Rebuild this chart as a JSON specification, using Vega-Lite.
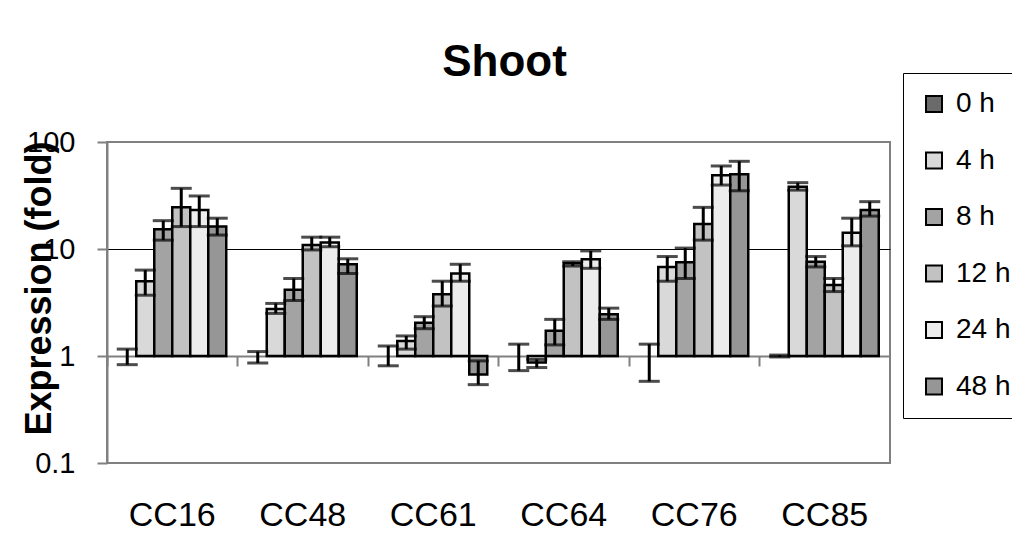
{
  "$schema": "https://vega.github.io/schema/vega-lite/v6.json",
  "width": 783,
  "height": 321,
  "autosize": "none",
  "padding": {"left": 107, "top": 142, "right": 122, "bottom": 94},
  "background": "white",
  "config": {
    "font": "Liberation Sans",
    "view": {"stroke": "#808080", "strokeWidth": 2}
  },
  "title": {
    "text": "Shoot",
    "font": "Liberation Sans",
    "fontSize": 44,
    "fontWeight": "bold",
    "color": "black",
    "frame": "group",
    "anchor": "middle",
    "baseline": "alphabetic",
    "offset": 0,
    "dx": 6,
    "dy": 47
  },
  "data": {
    "values": [
      {"gene": "CC16", "series": "0 h", "value": 1, "lower": 0.83, "upper": 1.16},
      {"gene": "CC16", "series": "4 h", "value": 5.0, "lower": 3.7, "upper": 6.35},
      {"gene": "CC16", "series": "8 h", "value": 15.3, "lower": 12.1, "upper": 18.4},
      {"gene": "CC16", "series": "12 h", "value": 24.5, "lower": 16.2, "upper": 36.9},
      {"gene": "CC16", "series": "24 h", "value": 23.2, "lower": 16.2, "upper": 31.3},
      {"gene": "CC16", "series": "48 h", "value": 16.2, "lower": 13.5, "upper": 19.4},
      {"gene": "CC48", "series": "0 h", "value": 1, "lower": 0.86, "upper": 1.1},
      {"gene": "CC48", "series": "4 h", "value": 2.75, "lower": 2.5, "upper": 3.1},
      {"gene": "CC48", "series": "8 h", "value": 4.15, "lower": 3.3, "upper": 5.3},
      {"gene": "CC48", "series": "12 h", "value": 10.9, "lower": 9.8, "upper": 12.9},
      {"gene": "CC48", "series": "24 h", "value": 11.5, "lower": 10.5, "upper": 12.9},
      {"gene": "CC48", "series": "48 h", "value": 7.2, "lower": 5.9, "upper": 8.1},
      {"gene": "CC61", "series": "0 h", "value": 1, "lower": 0.81, "upper": 1.24},
      {"gene": "CC61", "series": "4 h", "value": 1.38, "lower": 1.16, "upper": 1.54},
      {"gene": "CC61", "series": "8 h", "value": 2.05, "lower": 1.8, "upper": 2.33},
      {"gene": "CC61", "series": "12 h", "value": 3.77, "lower": 2.93, "upper": 5.0},
      {"gene": "CC61", "series": "24 h", "value": 5.9, "lower": 5.0, "upper": 7.2},
      {"gene": "CC61", "series": "48 h", "value": 0.67, "lower": 0.54, "upper": 0.9},
      {"gene": "CC64", "series": "0 h", "value": 1, "lower": 0.73, "upper": 1.29},
      {"gene": "CC64", "series": "4 h", "value": 0.87, "lower": 0.78, "upper": 0.93},
      {"gene": "CC64", "series": "8 h", "value": 1.72, "lower": 1.27, "upper": 2.2},
      {"gene": "CC64", "series": "12 h", "value": 7.35, "lower": 6.93, "upper": 7.6},
      {"gene": "CC64", "series": "24 h", "value": 8.0, "lower": 6.6, "upper": 9.6},
      {"gene": "CC64", "series": "48 h", "value": 2.45, "lower": 2.2, "upper": 2.8},
      {"gene": "CC76", "series": "0 h", "value": 1, "lower": 0.58, "upper": 1.29},
      {"gene": "CC76", "series": "4 h", "value": 6.8, "lower": 5.0, "upper": 8.5},
      {"gene": "CC76", "series": "8 h", "value": 7.5, "lower": 5.3, "upper": 10.2},
      {"gene": "CC76", "series": "12 h", "value": 17.1, "lower": 12.1, "upper": 24.5},
      {"gene": "CC76", "series": "24 h", "value": 49, "lower": 39.6, "upper": 59.7},
      {"gene": "CC76", "series": "48 h", "value": 50, "lower": 35, "upper": 66},
      {"gene": "CC85", "series": "0 h", "value": 1, "lower": 0.98, "upper": 1.02},
      {"gene": "CC85", "series": "4 h", "value": 38.2, "lower": 35.5, "upper": 41.7},
      {"gene": "CC85", "series": "8 h", "value": 7.6, "lower": 6.8, "upper": 8.5},
      {"gene": "CC85", "series": "12 h", "value": 4.6, "lower": 4.0, "upper": 5.3},
      {"gene": "CC85", "series": "24 h", "value": 14.2, "lower": 10.7, "upper": 19.4},
      {"gene": "CC85", "series": "48 h", "value": 23.2, "lower": 20.3, "upper": 27.7}
    ]
  },
  "resolve": {"axis": {"x": "independent"}},
  "layer": [
    {
      "transform": [{"filter": "datum.series !== '0 h'"}],
      "mark": {"type": "bar", "stroke": "black", "strokeWidth": 2.5},
      "encoding": {
        "x": {
          "field": "gene", "type": "nominal",
          "scale": {"paddingInner": 0, "paddingOuter": 0},
          "axis": {
            "orient": "bottom", "offset": -107, "title": null,
            "labels": false, "ticks": true, "tickSize": 10, "tickWidth": 2,
            "tickColor": "#808080", "domainColor": "#808080", "domainWidth": 2,
            "bandPosition": 0, "grid": false
          }
        },
        "xOffset": {
          "field": "series", "type": "nominal",
          "scale": {"domain": ["0 h", "4 h", "8 h", "12 h", "24 h", "48 h"], "paddingInner": 0, "paddingOuter": 0.625}
        },
        "y": {
          "field": "value", "type": "quantitative", "title": "Expression (fold)",
          "scale": {"type": "log", "domain": [0.1, 100], "nice": false},
          "axis": {
            "values": [0.1, 1, 10, 100], "format": "~g",
            "domainColor": "#808080", "domainWidth": 2,
            "tickColor": "#808080", "tickWidth": 2, "tickSize": 10,
            "labelFontSize": 29, "labelColor": "black", "labelFont": "Liberation Sans", "labelPadding": 22,
            "grid": true, "gridWidth": 1,
            "gridColor": {"condition": {"test": "datum.value === 10", "value": "black"}, "value": "transparent"},
            "titleFontSize": 36, "titleFont": "Liberation Sans", "titleFontWeight": "bold", "titleColor": "black",
            "titleAngle": -90, "titleAlign": "center", "titleBaseline": "middle",
            "titleX": -68, "titleY": 146
          }
        },
        "y2": {"datum": 1},
        "color": {
          "field": "series", "type": "nominal",
          "scale": {
            "domain": ["0 h", "4 h", "8 h", "12 h", "24 h", "48 h"],
            "range": ["#6a6a6a", "#d9d9d9", "#a3a3a3", "#c2c2c2", "#ececec", "#969696"]
          },
          "legend": {
            "title": null, "orient": "none", "legendX": 796, "legendY": -69,
            "strokeColor": "black", "fillColor": "white", "padding": 17,
            "rowPadding": 28.5, "labelFontSize": 28, "labelFont": "Liberation Sans", "labelColor": "black",
            "labelOffset": 8, "symbolType": "square", "symbolSize": 256,
            "symbolStrokeColor": "black", "symbolStrokeWidth": 2, "symbolOpacity": 1
          }
        }
      }
    },
    {
      "mark": {"type": "rule", "color": "black", "strokeWidth": 3},
      "encoding": {
        "x": {
          "field": "gene", "type": "nominal",
          "scale": {"paddingInner": 0, "paddingOuter": 0},
          "axis": {
            "orient": "bottom", "offset": 0, "title": null, "domain": false,
            "ticks": false, "tickSize": 0, "labelAngle": 0,
            "labelFontSize": 34, "labelFont": "Liberation Sans", "labelColor": "black",
            "labelPadding": 35, "grid": false
          }
        },
        "xOffset": {
          "field": "series", "type": "nominal",
          "scale": {"domain": ["0 h", "4 h", "8 h", "12 h", "24 h", "48 h"], "paddingInner": 0, "paddingOuter": 0.625}
        },
        "y": {"field": "lower", "type": "quantitative", "title": "Expression (fold)", "scale": {"type": "log", "domain": [0.1, 100], "nice": false}},
        "y2": {"field": "upper"}
      }
    },
    {
      "mark": {"type": "tick", "color": "black", "thickness": 3, "size": 21},
      "encoding": {
        "x": {"field": "gene", "type": "nominal", "scale": {"paddingInner": 0, "paddingOuter": 0}, "axis": null},
        "xOffset": {
          "field": "series", "type": "nominal",
          "scale": {"domain": ["0 h", "4 h", "8 h", "12 h", "24 h", "48 h"], "paddingInner": 0, "paddingOuter": 0.625}
        },
        "y": {"field": "lower", "type": "quantitative", "title": "Expression (fold)", "scale": {"type": "log", "domain": [0.1, 100], "nice": false}}
      }
    },
    {
      "mark": {"type": "tick", "color": "black", "thickness": 3, "size": 21},
      "encoding": {
        "x": {"field": "gene", "type": "nominal", "scale": {"paddingInner": 0, "paddingOuter": 0}, "axis": null},
        "xOffset": {
          "field": "series", "type": "nominal",
          "scale": {"domain": ["0 h", "4 h", "8 h", "12 h", "24 h", "48 h"], "paddingInner": 0, "paddingOuter": 0.625}
        },
        "y": {"field": "upper", "type": "quantitative", "title": "Expression (fold)", "scale": {"type": "log", "domain": [0.1, 100], "nice": false}}
      }
    }
  ]
}
